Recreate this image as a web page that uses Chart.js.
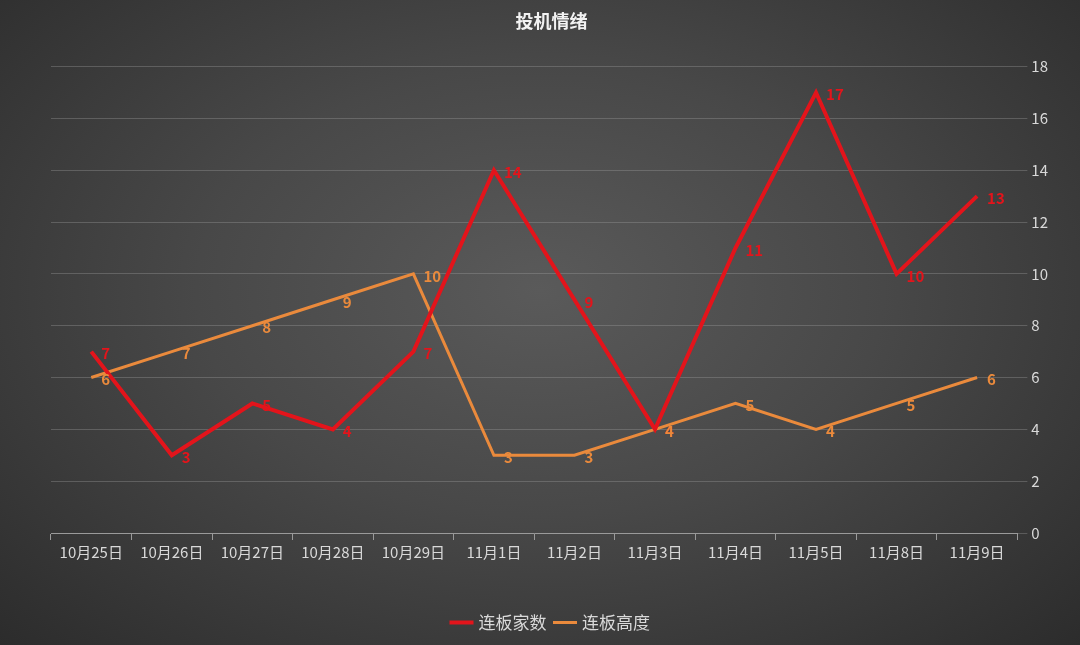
<!DOCTYPE html>
<html>
<head>
<meta charset="utf-8">
<script src="https://cdn.jsdelivr.net/npm/chart.js@4.4.0/dist/chart.umd.min.js"></script>
<style>
html,body{margin:0;padding:0;}
body{width:1080px;height:645px;background:radial-gradient(ellipse at 50% 45%,#5a5a5a 0%,#484848 45%,#2c2c2c 100%);}
#wrap{width:1080px;height:645px;position:relative;}
</style>
</head>
<body>
<div id="wrap"><canvas id="chart" width="1080" height="645"></canvas></div>
<script>
const labels=['10月25日','10月26日','10月27日','10月28日','10月29日','11月1日','11月2日','11月3日','11月4日','11月5日','11月8日','11月9日'];
const jiaShu=[7,3,5,4,7,14,9,4,11,17,10,13];
const gaoDu=[6,7,8,9,10,3,3,4,5,4,5,6];

const FONT='"Noto Sans CJK SC","Noto Sans",sans-serif';

// simple data label plugin: value drawn right of each point
const valueLabels={
  id:'valueLabels',
  afterDatasetsDraw(chart){
    const ctx=chart.ctx;
    ctx.save();
    ctx.font='bold 15px '+FONT;
    ctx.textBaseline='middle';
    ctx.textAlign='left';
    chart.data.datasets.forEach((ds,i)=>{
      const meta=chart.getDatasetMeta(i);
      ctx.fillStyle=ds.borderColor;
      meta.data.forEach((pt,j)=>{ctx.fillText(String(ds.data[j]),pt.x+10,pt.y+2);});
    });
    ctx.restore();
  }
};

new Chart(document.getElementById('chart'),{
  type:'line',
  data:{labels:labels,datasets:[
    {label:'连板家数',data:jiaShu,borderColor:'#e3141b',backgroundColor:'#e3141b',borderWidth:4,pointRadius:0,tension:0},
    {label:'连板高度',data:gaoDu,borderColor:'#ea8a3c',backgroundColor:'#ea8a3c',borderWidth:3,pointRadius:0,tension:0}
  ]},
  options:{
    responsive:false,animation:false,devicePixelRatio:1,
    layout:{padding:{left:51,right:28,top:4,bottom:4}},
    plugins:{
      title:{display:true,text:'投机情绪',color:'#f2f2f2',font:{family:FONT,size:18,weight:'bold'},padding:{top:6,bottom:35}},
      legend:{position:'bottom',labels:{color:'#d9d9d9',font:{family:FONT,size:17},usePointStyle:true,pointStyle:'line',boxWidth:30,padding:10},
        onClick:null},
      tooltip:{enabled:false}
    },
    scales:{
      x:{offset:true,
        afterFit:s=>{s.height+=40;},
        grid:{offset:true,drawOnChartArea:false,drawTicks:true,tickLength:7,color:'#9a9a9a'},
        border:{color:'#9a9a9a',width:1},
        ticks:{color:'#d9d9d9',font:{family:FONT,size:15},maxRotation:0,autoSkip:false,padding:3}},
      y:{position:'right',min:0,max:18,
        ticks:{stepSize:2,color:'#d9d9d9',font:{family:FONT,size:15},padding:4},
        grid:{color:'rgba(160,160,160,0.35)',tickLength:10,drawTicks:true},
        border:{display:false}}
    }
  },
  plugins:[valueLabels]
});
</script>
</body>
</html>
